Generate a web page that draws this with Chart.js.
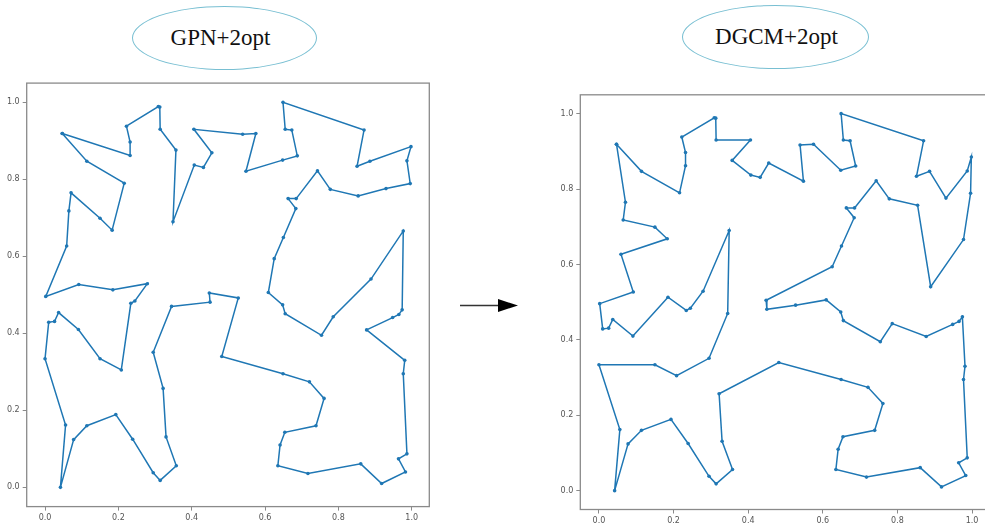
<!DOCTYPE html>
<html>
<head>
<meta charset="utf-8">
<script src="https://cdn.jsdelivr.net/npm/chart.js@4/dist/chart.umd.min.js"></script>
<style>
  html, body { margin:0; padding:0; background:#fff; width:985px; height:524px; overflow:hidden; position:relative; }
  .box { position:absolute; }
  .ell { position:absolute; box-sizing:border-box; border:1.5px solid #78bfd2; border-radius:50%;
         display:flex; align-items:center; justify-content:center;
         font-family:"Liberation Serif","DejaVu Serif",serif; font-size:23px; color:#111; }
</style>
</head>
<body>
<div class="ell" style="left:132px;top:6px;width:185px;height:64px;"><span style="margin-right:8px">GPN+2opt</span></div>
<div class="ell" style="left:682px;top:5px;width:187px;height:64px;"><span style="margin-left:2px">DGCM+2opt</span></div>
<svg class="box" style="left:0;top:0" width="985" height="524">
  <line x1="460" y1="305.5" x2="500" y2="305.5" stroke="#333" stroke-width="1.3"/>
  <polygon points="498,299 518,305.5 498,312" fill="#000"/>
</svg>
<div class="box" style="left:0px;top:70px;width:440px;height:454px;"><canvas id="c1" width="440" height="454"></canvas></div>
<div class="box" style="left:550px;top:80px;width:450px;height:444px;"><canvas id="c2" width="450" height="444"></canvas></div>
<script>
// Titles
const titles = ["GPN+2opt", "DGCM+2opt"];
// Tick values for both axes
const tickValues = [0.0, 0.2, 0.4, 0.6, 0.8, 1.0];
// GPN+2opt tour (visit order, x,y)
const gpnTour = [
[0.047,0.919],[0.114,0.847],[0.216,0.790],[0.183,0.668],[0.150,0.699],[0.071,0.765],[0.065,0.718],[0.059,0.627],[0.002,0.496],[0.092,0.527],
[0.185,0.513],[0.279,0.529],[0.245,0.484],[0.234,0.478],[0.208,0.305],[0.150,0.334],[0.091,0.410],[0.037,0.454],[0.026,0.431],[0.010,0.429],
[0.000,0.334],[0.056,0.162],[0.042,0.000],[0.078,0.124],[0.114,0.160],[0.193,0.189],[0.239,0.125],[0.295,0.038],[0.314,0.018],[0.358,0.056],
[0.330,0.131],[0.322,0.257],[0.295,0.351],[0.345,0.470],[0.450,0.481],[0.448,0.505],[0.527,0.492],[0.482,0.340],[0.649,0.295],[0.721,0.274],
[0.761,0.231],[0.739,0.160],[0.654,0.143],[0.641,0.110],[0.635,0.056],[0.717,0.036],[0.861,0.061],[0.918,0.010],[0.983,0.040],[0.964,0.074],
[0.987,0.087],[0.977,0.295],[0.981,0.330],[0.877,0.409],[0.948,0.441],[0.965,0.449],[0.974,0.461],[0.977,0.666],[0.889,0.541],[0.786,0.443],
[0.754,0.395],[0.655,0.451],[0.648,0.474],[0.609,0.506],[0.625,0.594],[0.650,0.649],[0.684,0.724],[0.663,0.750],[0.685,0.750],[0.743,0.822],
[0.778,0.774],[0.854,0.757],[0.930,0.776],[0.996,0.789],[0.987,0.848],[0.998,0.885],[0.886,0.847],[0.851,0.834],[0.870,0.928],[0.649,1.000],
[0.655,0.930],[0.673,0.928],[0.688,0.861],[0.648,0.850],[0.548,0.821],[0.575,0.919],[0.539,0.917],[0.406,0.930],[0.455,0.869],[0.432,0.831],
[0.407,0.837],[0.349,0.690],[0.357,0.876],[0.314,0.930],[0.313,0.988],[0.309,0.989],[0.222,0.938],[0.232,0.897],[0.232,0.862]
];
// DGCM+2opt tour (visit order, x,y)
const dgcmTour = [
[0.047,0.919],[0.114,0.847],[0.216,0.790],[0.232,0.862],[0.232,0.897],[0.222,0.938],[0.309,0.989],[0.313,0.988],[0.314,0.930],[0.406,0.930],
[0.357,0.876],[0.407,0.837],[0.432,0.831],[0.455,0.869],[0.548,0.821],[0.539,0.917],[0.575,0.919],[0.648,0.850],[0.688,0.861],[0.673,0.928],
[0.655,0.930],[0.649,1.000],[0.870,0.928],[0.851,0.834],[0.886,0.847],[0.930,0.776],[0.987,0.848],[0.998,0.885],[0.996,0.789],[0.977,0.666],
[0.889,0.541],[0.854,0.757],[0.778,0.774],[0.743,0.822],[0.685,0.750],[0.663,0.750],[0.684,0.724],[0.650,0.649],[0.625,0.594],[0.448,0.505],
[0.450,0.481],[0.527,0.492],[0.609,0.506],[0.648,0.474],[0.655,0.451],[0.754,0.395],[0.786,0.443],[0.877,0.409],[0.948,0.441],[0.965,0.449],
[0.974,0.461],[0.981,0.330],[0.977,0.295],[0.987,0.087],[0.964,0.074],[0.983,0.040],[0.918,0.010],[0.861,0.061],[0.717,0.036],[0.635,0.056],
[0.641,0.110],[0.654,0.143],[0.739,0.160],[0.761,0.231],[0.721,0.274],[0.649,0.295],[0.482,0.340],[0.322,0.257],[0.330,0.131],[0.358,0.056],
[0.314,0.018],[0.295,0.038],[0.239,0.125],[0.193,0.189],[0.114,0.160],[0.078,0.124],[0.042,0.000],[0.056,0.162],[0.000,0.334],[0.150,0.334],
[0.208,0.305],[0.295,0.351],[0.345,0.470],[0.349,0.690],[0.279,0.529],[0.245,0.484],[0.234,0.478],[0.185,0.513],[0.091,0.410],[0.037,0.454],
[0.026,0.431],[0.010,0.429],[0.002,0.496],[0.092,0.527],[0.059,0.627],[0.183,0.668],[0.150,0.699],[0.065,0.718],[0.071,0.765]
];

const frame = {
  id: 'frame',
  afterDraw(chart) {
    const a = chart.chartArea, ctx = chart.ctx;
    ctx.save();
    ctx.strokeStyle = '#8a8a8a';
    ctx.lineWidth = 1.3;
    ctx.strokeRect(a.left, a.top, a.right - a.left, a.bottom - a.top);
    ctx.restore();
  }
};

function makeChart(id, tour, yW, xH, pad) {
  const pts = tour.concat([tour[0]]).map(p => ({x: p[0], y: p[1]}));
  const axisCommon = {
    type: 'linear',
    min: -0.05, max: 1.048,
    afterBuildTicks: s => { s.ticks = tickValues.map(v => ({value: v})); },
    border: { display: false },
    grid: { display: true, drawOnChartArea: false, drawTicks: true, tickLength: 4, color: '#8a8a8a', lineWidth: 1 },
    ticks: { callback: v => Number(v).toFixed(1), color: '#555', font: { family: 'DejaVu Sans', size: 8 }, padding: 3, maxRotation: 0, autoSkip: false }
  };
  return new Chart(document.getElementById(id), {
    type: 'scatter',
    data: { datasets: [{
      data: pts, showLine: true,
      borderColor: '#1f77b4', borderWidth: 1.5,
      pointRadius: 1.8, pointBackgroundColor: '#1f77b4', pointBorderWidth: 0, pointHoverRadius: 1.8
    }]},
    options: {
      responsive: false, animation: false, events: [],
      layout: { padding: pad },
      plugins: { legend: { display: false }, tooltip: { enabled: false } },
      scales: {
        x: Object.assign({}, axisCommon, { afterFit: s => { s.height = xH; } }),
        y: Object.assign({}, axisCommon, { min: -0.05, max: 1.05, afterFit: s => { s.width = yW; } })
      }
    },
    plugins: [frame]
  });
}

makeChart('c1', gpnTour, 26.7, 17.4, { top: 13.1, right: 10.7, left: 0, bottom: 0 });
makeChart('c2', dgcmTour, 30.3, 14.5, { top: 14.8, right: 10, left: 0, bottom: 0 });
</script>
</body>
</html>
